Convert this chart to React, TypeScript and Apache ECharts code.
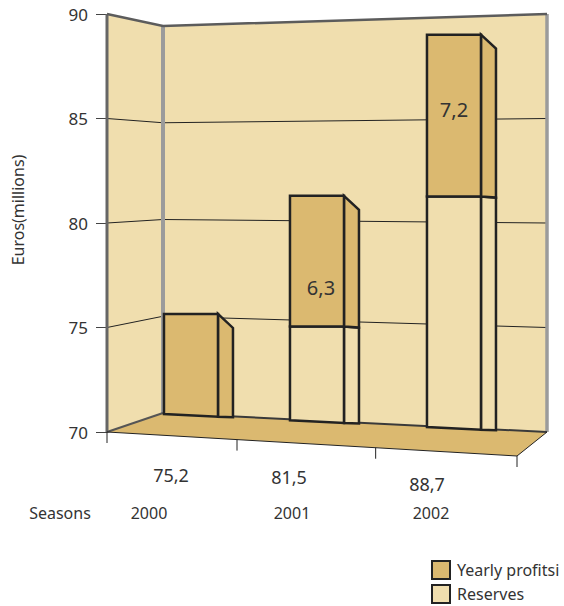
import React, { useEffect, useRef } from "react";
import * as echarts from "echarts";

const categories = ["2000", "2001", "2002"];
// Tops of the drawn segments, read against the wall's scale (euro millions)
const reservesTop = [70, 74.75, 81.25];
const profitsTop = [75.2, 81.26, 89.1];
const totalLabels = ["75,2", "81,5", "88,7"];
const profitLabels = ["", "6,3", "7,2"];
const yTicks = [75, 80, 85];

const FONT = "'Noto Sans', sans-serif";
const WALL = "#F0DEAE";
const TAN = "#DBB970";
const INK = "#222222";
const GREY = "#9B9B9B";
const TEXT = "#333333";

// perspective model of the box
const G = { left: 107, top: 14, width: 440, height: 418 };
const back = { x0: 163, x1: 547, top0: 26, h0: 387 };
const floorFront = { x0: 107, y0: 432, x1: 517, y1: 456 };
const BAR_W = 54;
const DEPTH = 15;

type Api = any;

function wallY(x: number, py: number) {
  const f = (x - back.x0) / (back.x1 - back.x0);
  const left = back.top0 + ((py - G.top) * back.h0) / G.height;
  return left + (py - left) * f;
}
function faceLeft(gx: number) {
  const t = (gx - G.left) / G.width;
  return 105.1 + 345 * t + 49.5 * t * t;
}
const line = (pts: number[][], stroke: string, lineWidth: number) => ({
  type: "polyline",
  shape: { points: pts },
  style: { stroke, lineWidth, fill: "none", lineJoin: "miter" },
});
const poly = (pts: number[][], fill: string) => ({
  type: "polygon",
  shape: { points: pts },
  style: { fill, stroke: "none" },
});

function renderBox(_: any, api: Api) {
  const py = (v: number) => api.coord([0, v])[1];
  const top = py(90);
  const bot = py(70);
  const L = G.left;
  const R = back.x1;
  const B = back.x0;
  const children: any[] = [];
  children.push(poly([[L, top], [B, wallY(B, top)], [B, wallY(B, bot)], [L, bot]], WALL));
  children.push(poly([[B, wallY(B, top)], [R, top], [R, bot], [B, wallY(B, bot)]], WALL));
  children.push(
    poly([[L, bot], [B, wallY(B, bot)], [R, bot], [floorFront.x1, floorFront.y1]], TAN)
  );
  yTicks.forEach((v) => {
    const y = py(v);
    children.push(line([[L, y], [B, wallY(B, y)], [R, y]], INK, 1));
  });
  children.push(line([[B, wallY(B, top)], [B, wallY(B, bot)]], GREY, 4));
  children.push(line([[R, top], [R, bot]], GREY, 3.5));
  children.push(line([[L, top], [L, bot]], "#666666", 3));
  children.push(line([[L, top], [B, wallY(B, top)], [R, top]], "#5c5c5c", 2.5));
  children.push(line([[L, bot], [B, wallY(B, bot)]], "#555555", 2));
  children.push(line([[B, wallY(B, bot)], [R, bot]], "#3a3a3a", 2));
  children.push(
    line([[L, bot], [floorFront.x1, floorFront.y1], [R, bot]], INK, 1)
  );
  [0, 1 / 3, 2 / 3, 1].forEach((t) => {
    const x = G.left + 380 * t + 30 * t * t + (t > 0.5 && t < 1 ? 2 : 0);
    const y =
      floorFront.y0 +
      ((x - floorFront.x0) * (floorFront.y1 - floorFront.y0)) / (floorFront.x1 - floorFront.x0);
    children.push(line([[x, y], [x, y + 11]], INK, 1));
  });
  return { type: "group", children };
}

function renderSegment(fill: string, label: string[] | null, slantedTop: boolean) {
  return (params: any, api: Api) => {
    const i = api.value(0);
    const pLow = api.coord([i, api.value(1)]);
    const pHigh = api.coord([i, api.value(2)]);
    const x0 = faceLeft(pLow[0]);
    const x1 = x0 + BAR_W;
    const x2 = x1 + DEPTH;
    const yTop = wallY(x1, pHigh[1]);
    const atBase = api.value(1) <= 70;
    const yBot0 = atBase ? wallY(x0, pLow[1]) + 1 : wallY(x1, pLow[1]);
    const yBot1 = wallY(x1, pLow[1]) + (atBase ? 1 : 0);
    const ySide2Top = slantedTop ? yTop + 14 : yTop + 1;
    const ySide2Bot = yBot1 + (atBase ? 0.5 : 1);
    const stroke = { stroke: INK, lineWidth: 2.5, fill, lineJoin: "miter" };
    const children: any[] = [
      {
        type: "polygon",
        shape: { points: [[x1, yTop], [x2, ySide2Top], [x2, ySide2Bot], [x1, yBot1]] },
        style: stroke,
      },
      {
        type: "polygon",
        shape: { points: [[x0, yTop], [x1, yTop], [x1, yBot1], [x0, yBot0]] },
        style: stroke,
      },
    ];
    if (label && label[params.dataIndex]) {
      children.push({
        type: "text",
        x: x0 + 27 + (params.dataIndex === 1 ? 4 : 0),
        y: yTop + (yBot1 - yTop) * (params.dataIndex === 1 ? 0.7 : 0.46),
        style: {
          text: label[params.dataIndex],
          font: `20px ${FONT}`,
          fill: TEXT,
          align: "center",
          verticalAlign: "middle",
        },
      });
    }
    return { type: "group", children };
  };
}

const textItem = (text: string, x: number, y: number, size: number, align = "center") => ({
  type: "text",
  x,
  y,
  style: { text, font: `${size}px ${FONT}`, fill: TEXT, align, verticalAlign: "middle" },
});

const totalLabelPos = [[171, 475], [289, 477], [427, 484]];
const yearLabelPos = [[149, 513], [292, 513], [431, 513]];

export default function App() {
  const ref = useRef<HTMLDivElement>(null);
  useEffect(() => {
    document.body.style.margin = "0";
    const chart = echarts.init(ref.current!, undefined, { renderer: "svg" });
    const segData = (lo: number[], hi: number[]) => categories.map((_, i) => [i, lo[i], hi[i]]);
    const baseline = categories.map(() => 70);
    chart.setOption({
      animation: false,
      tooltip: { show: false },
      grid: { left: G.left, top: G.top, width: G.width, height: G.height, containLabel: false },
      xAxis: { type: "category", data: categories, show: false },
      yAxis: {
        type: "value",
        min: 70,
        max: 90,
        interval: 5,
        axisLine: { show: false },
        axisTick: { show: true, length: 11, lineStyle: { color: "#444444", width: 1 } },
        axisLabel: { fontFamily: FONT, fontSize: 17, color: TEXT, margin: 19 },
        splitLine: { show: false },
      },
      legend: {
        orient: "vertical",
        left: 431,
        top: 560,
        icon: "rect",
        itemWidth: 18,
        itemHeight: 18,
        itemGap: 4,
        data: ["Yearly profitsi", "Reserves"],
        textStyle: { fontFamily: FONT, fontSize: 16, color: TEXT, padding: [0, 0, 0, 2] },
        padding: 0,
        selectedMode: false,
      },
      graphic: [
        { ...textItem("Euros(millions)", 18, 210, 16), rotation: Math.PI / 2 },
        textItem("Seasons", 60, 513, 16),
        ...totalLabels.map((t, i) => textItem(t, totalLabelPos[i][0], totalLabelPos[i][1], 18)),
        ...categories.map((t, i) => textItem(t, yearLabelPos[i][0], yearLabelPos[i][1], 16)),
      ],
      series: [
        {
          type: "custom",
          name: "box",
          z: 1,
          data: [[0, 70]],
          renderItem: renderBox,
          silent: true,
        },
        {
          type: "custom",
          name: "Reserves",
          z: 2,
          itemStyle: { color: WALL, borderColor: INK, borderWidth: 2 },
          data: segData(baseline, reservesTop).filter((d) => d[2] > 70),
          encode: { x: 0, y: [1, 2] },
          renderItem: renderSegment(WALL, null, false),
        },
        {
          type: "custom",
          name: "Yearly profitsi",
          z: 3,
          itemStyle: { color: TAN, borderColor: INK, borderWidth: 2 },
          data: segData(reservesTop, profitsTop),
          encode: { x: 0, y: [1, 2] },
          renderItem: renderSegment(TAN, profitLabels, true),
        },
      ],
    });
    return () => chart.dispose();
  }, []);
  return <div ref={ref} style={{ width: 564, height: 606, background: "#fff" }} />;
}
